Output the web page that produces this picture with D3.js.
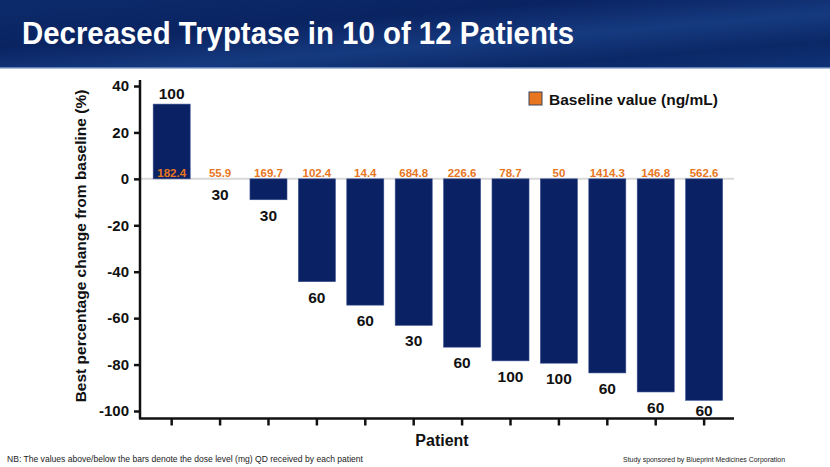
<!DOCTYPE html>
<html><head><meta charset="utf-8">
<script src="https://cdn.jsdelivr.net/npm/d3@7"></script>
<style>body{margin:0;background:#fff}svg{display:block;font-family:"Liberation Sans",Arial,sans-serif}</style>
</head><body>
<script>
const patients = ["P1","P2","P3","P4","P5","P6","P7","P8","P9","P10","P11","P12"];
const changePct = [32.2, 0, -9.0, -44.3, -54.4, -63.1, -72.5, -78.4, -79.4, -83.6, -91.8, -95.4];
const doseMg = [100, 30, 30, 60, 60, 30, 60, 100, 100, 60, 60, 60];
const baselineValues = ["182.4","55.9","169.7","102.4","14.4","684.8","226.6","78.7","50","1414.3","146.8","562.6"];
const yTicks = [40, 20, 0, -20, -40, -60, -80, -100];
const yTickLabels = ["40","20","0","-20","-40","-60","-80","-100"];

const W = 830, H = 467;
const svg = d3.select("body").append("svg").attr("width", W).attr("height", H);

// header
const defs = svg.append("defs");
const g1 = defs.append("linearGradient").attr("id","hdr").attr("x1","0").attr("y1","0").attr("x2","1").attr("y2","1");
g1.append("stop").attr("offset","0").attr("stop-color","#0c2a6a");
g1.append("stop").attr("offset","0.35").attr("stop-color","#0a2462");
g1.append("stop").attr("offset","0.6").attr("stop-color","#163a80");
g1.append("stop").attr("offset","0.8").attr("stop-color","#0b2866");
g1.append("stop").attr("offset","1").attr("stop-color","#0f3276");
svg.append("rect").attr("x",0).attr("y",0).attr("width",W).attr("height",68).attr("fill","url(#hdr)");
svg.append("rect").attr("x",0).attr("y",67).attr("width",W).attr("height",1.5).attr("fill","#5f7fb5");
svg.append("text").attr("x",22).attr("y",44).attr("fill","#fff")
  .attr("font-size",30.5).attr("font-weight","bold")
  .attr("textLength",552).attr("lengthAdjust","spacingAndGlyphs")
  .text("Decreased Tryptase in 10 of 12 Patients");

const y = d3.scaleLinear().domain([-100, 40]).range([411, 86]);
const x = d3.scaleBand().domain(patients).range([147.5, 728.3]).paddingInner(0.235).paddingOuter(0.117);

// zero line
svg.append("line").attr("x1",141).attr("x2",734).attr("y1",y(0)).attr("y2",y(0))
  .attr("stroke","#d9d9d9").attr("stroke-width",2);

// bars
svg.selectAll("rect.bar").data(patients).join("rect").attr("class","bar")
  .attr("x", d => x(d))
  .attr("width", x.bandwidth())
  .attr("y", (d,i) => y(Math.max(0, changePct[i])))
  .attr("height", (d,i) => Math.abs(y(changePct[i]) - y(0)))
  .attr("fill","#0a2263").attr("stroke","#3b5091").attr("stroke-width",0.6);

// baseline labels
svg.selectAll("text.base").data(patients).join("text").attr("class","base")
  .attr("x", d => x(d) + x.bandwidth()/2).attr("y", y(0) - 1.5)
  .attr("text-anchor","middle").attr("font-size",11.5).attr("font-weight","bold")
  .attr("fill","#e8761e").text((d,i) => baselineValues[i]);

// dose labels
svg.selectAll("text.dose").data(patients).join("text").attr("class","dose")
  .attr("x", d => x(d) + x.bandwidth()/2)
  .attr("y", (d,i) => changePct[i] > 0 ? y(changePct[i]) - 5 : Math.min(y(changePct[i]) + 21, 416))
  .attr("text-anchor","middle").attr("font-size",15.5).attr("font-weight","bold")
  .attr("fill","#111").text((d,i) => doseMg[i]);

// y axis
const yAxis = d3.axisLeft(y).tickValues(yTicks).tickSize(6).tickPadding(5)
  .tickFormat((d,i) => yTickLabels[i]);
const ya = svg.append("g").attr("transform","translate(140,0)").call(yAxis);
ya.select(".domain").attr("d","M0,80V418.5").attr("stroke","#111").attr("stroke-width",2.5);
ya.selectAll(".tick line").attr("stroke","#111").attr("stroke-width",2.5);
ya.selectAll(".tick text").attr("font-size",15).attr("font-weight","bold").attr("fill","#111")
  .attr("font-family","'Liberation Sans',Arial,sans-serif");

// x axis
const xAxis = d3.axisBottom(x).tickSize(7).tickFormat("");
const xa = svg.append("g").attr("transform","translate(0,418.5)").call(xAxis);
xa.select(".domain").attr("d","M139,0H734").attr("stroke","#111").attr("stroke-width",2.5);
xa.selectAll(".tick line").attr("stroke","#111").attr("stroke-width",2.5);

// axis titles
svg.append("text").attr("transform","translate(86,246) rotate(-90)").attr("text-anchor","middle")
  .attr("font-size",15.5).attr("font-weight","bold").attr("fill","#111")
  .text("Best percentage change from baseline (%)");
svg.append("text").attr("x",442).attr("y",446).attr("text-anchor","middle")
  .attr("font-size",16).attr("font-weight","bold").attr("fill","#111").text("Patient");

// legend
svg.append("rect").attr("x",529).attr("y",92).attr("width",13).attr("height",13)
  .attr("fill","#e8761e").attr("stroke","#3a4560").attr("stroke-width",1);
svg.append("text").attr("x",549).attr("y",104.5).attr("font-size",15.5).attr("font-weight","bold")
  .attr("fill","#111").text("Baseline value (ng/mL)");

// footnotes
svg.append("text").attr("x",7).attr("y",462).attr("font-size",9.3).attr("fill","#222")
  .attr("textLength",356).attr("lengthAdjust","spacingAndGlyphs")
  .text("NB: The values above/below the bars denote the dose level (mg) QD received by each patient");
svg.append("text").attr("x",623).attr("y",462).attr("font-size",7.6).attr("fill","#222")
  .attr("textLength",162).attr("lengthAdjust","spacingAndGlyphs")
  .text("Study sponsored by Blueprint Medicines Corporation");
</script>
</body></html>
